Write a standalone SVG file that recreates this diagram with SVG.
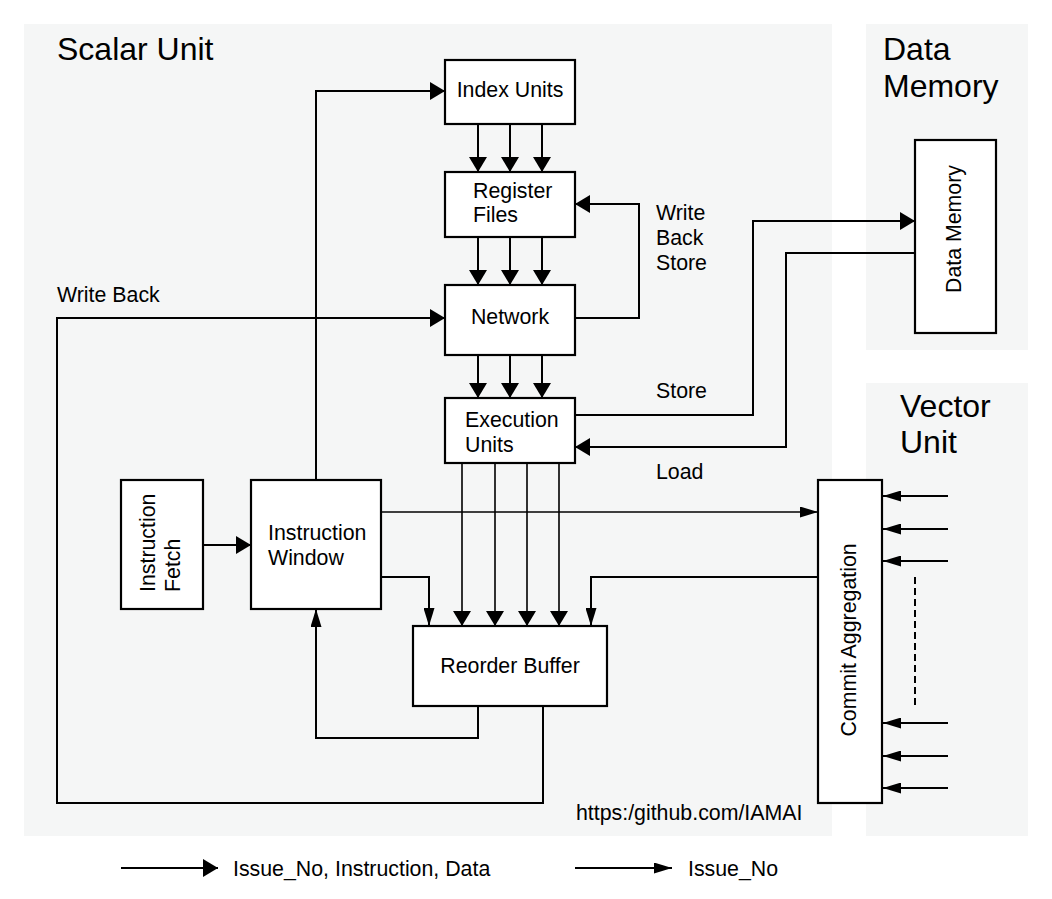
<svg xmlns="http://www.w3.org/2000/svg" width="1052" height="899" viewBox="0 0 1052 899">
<style>
.panel{fill:#f5f6f6;stroke:none}
.box{fill:#ffffff;stroke:#000000;stroke-width:2.2}
.t{font-family:"Liberation Sans",Arial,sans-serif;font-size:21.33px;fill:#000}
.title{font-family:"Liberation Sans",Arial,sans-serif;font-size:32px;fill:#000}
.c{fill:none;stroke:#000;stroke-width:2}
.thin{fill:none;stroke:#000;stroke-width:1.6}
.big{marker-end:url(#big)}
.small{marker-end:url(#small)}
</style>
<defs>
<marker id="big" markerUnits="userSpaceOnUse" markerWidth="16" markerHeight="18" refX="15" refY="9" orient="auto">
<path d="M0,0 L15,9 L0,18 z" fill="#000"/>
</marker>
<marker id="small" markerUnits="userSpaceOnUse" markerWidth="19" markerHeight="11" refX="18" refY="5.5" orient="auto">
<path d="M0,0 L18,5.5 L0,11 z" fill="#000"/>
</marker>
</defs>
<rect width="1052" height="899" fill="#ffffff"/>
<g id="panels">
<rect class="panel" x="24" y="24" width="808" height="812"/>
<rect class="panel" x="866" y="24" width="162" height="326"/>
<rect class="panel" x="866" y="383" width="162" height="453"/>
<text class="title" x="57" y="60">Scalar Unit</text>
<text class="title" x="883" y="60">Data</text>
<text class="title" x="883" y="97">Memory</text>
<text class="title" x="900" y="417">Vector</text>
<text class="title" x="900" y="453">Unit</text>
</g>
<g id="connectors">
<path class="c big" d="M316,480 V91 H445"/>
<path class="c big" d="M478,124 V172"/>
<path class="c big" d="M510,124 V172"/>
<path class="c big" d="M542,124 V172"/>
<path class="c big" d="M478,237 V285"/>
<path class="c big" d="M510,237 V285"/>
<path class="c big" d="M542,237 V285"/>
<path class="c big" d="M478,355 V398"/>
<path class="c big" d="M510,355 V398"/>
<path class="c big" d="M542,355 V398"/>
<path class="c big" d="M575,318 H639 V204 H575"/>
<path class="c big" d="M575,415 H753 V221 H915"/>
<path class="c big" d="M915,253 H786 V447 H575"/>
<path class="c big" d="M543,706 V803 H57 V318 H445"/>
<path class="c big" d="M203,545 H251"/>
<path class="thin big" d="M462,463 V626"/>
<path class="thin big" d="M495,463 V626"/>
<path class="thin big" d="M527,463 V626"/>
<path class="thin big" d="M559,463 V626"/>
<path class="thin small" d="M381,512 H818"/>
<path class="c small" d="M381,577 H429 V626"/>
<path class="c small" d="M818,577 H591 V626"/>
<path class="c small" d="M478,706 V738 H316 V609"/>
<path class="c small" d="M948,496 H883"/>
<path class="c small" d="M948,529 H883"/>
<path class="c small" d="M948,561 H883"/>
<path class="c small" d="M948,723 H883"/>
<path class="c small" d="M948,756 H883"/>
<path class="c small" d="M948,788 H883"/>
<path class="c" d="M915,577 V707" stroke-dasharray="7,4"/>
</g>
<g id="index-units">
<rect class="box" x="445" y="60" width="130" height="64"/>
<text class="t" x="510" y="97" text-anchor="middle">Index Units</text>
</g>
<g id="register-files">
<rect class="box" x="445" y="172" width="130" height="65"/>
<text class="t" x="473" y="198">Register</text>
<text class="t" x="473" y="222">Files</text>
</g>
<g id="network">
<rect class="box" x="445" y="285" width="130" height="70"/>
<text class="t" x="510" y="324" text-anchor="middle">Network</text>
</g>
<g id="execution-units">
<rect class="box" x="445" y="398" width="130" height="65"/>
<text class="t" x="465" y="427">Execution</text>
<text class="t" x="465" y="452">Units</text>
</g>
<g id="instruction-fetch">
<rect class="box" x="121" y="480" width="82" height="129"/>
<text class="t" transform="translate(155,592) rotate(-90)">Instruction</text>
<text class="t" transform="translate(180,592) rotate(-90)">Fetch</text>
</g>
<g id="instruction-window">
<rect class="box" x="251" y="480" width="130" height="129"/>
<text class="t" x="268" y="540">Instruction</text>
<text class="t" x="268" y="565">Window</text>
</g>
<g id="reorder-buffer">
<rect class="box" x="413" y="626" width="194" height="80"/>
<text class="t" x="510" y="673" text-anchor="middle">Reorder Buffer</text>
</g>
<g id="data-memory">
<rect class="box" x="915" y="140" width="81" height="193"/>
<text class="t" transform="translate(961,229) rotate(-90)" text-anchor="middle">Data Memory</text>
</g>
<g id="commit-aggregation">
<rect class="box" x="818" y="480" width="64" height="323"/>
<text class="t" transform="translate(856,640) rotate(-90)" text-anchor="middle">Commit Aggregation</text>
</g>
<g id="labels">
<text class="t" x="57" y="302">Write Back</text>
<text class="t" x="656" y="220">Write</text>
<text class="t" x="656" y="245">Back</text>
<text class="t" x="656" y="270">Store</text>
<text class="t" x="656" y="398">Store</text>
<text class="t" x="656" y="479">Load</text>
<text class="t" x="576" y="820">https:/github.com/IAMAI</text>
</g>
<g id="legend">
<path class="c big" d="M121,868 H218"/>
<text class="t" x="233" y="876">Issue_No, Instruction, Data</text>
<path class="c small" d="M575,868 H672"/>
<text class="t" x="688" y="876">Issue_No</text>
</g>
</svg>
